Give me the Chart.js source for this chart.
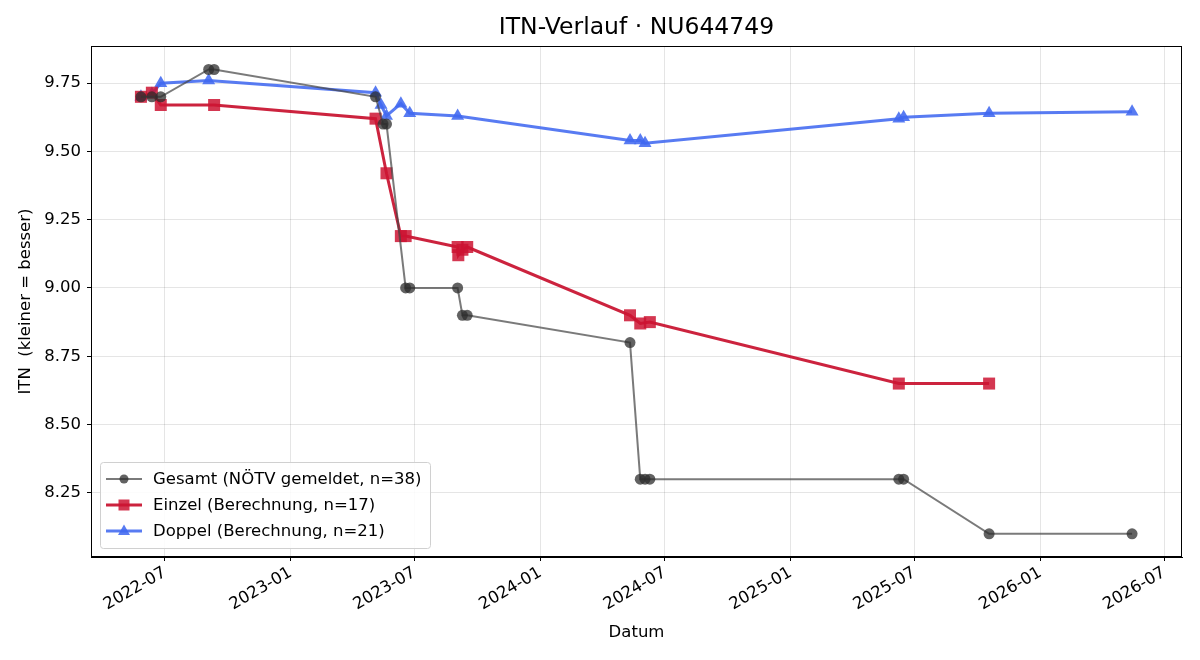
<!DOCTYPE html>
<html>
<head>
<meta charset="utf-8">
<script src="https://cdn.jsdelivr.net/npm/chart.js@4.4.1/dist/chart.umd.min.js"></script>
<style>
  body { margin: 0; background: #fff; }
  canvas { display: block; }
</style>
</head>
<body>
<canvas id="myChart" width="1200" height="660"></canvas>
<script>
(() => {
  // values
  const gesamtDates = ['2022-05-27', '2022-06-12', '2022-06-25', '2022-09-03', '2022-09-11', '2023-05-05', '2023-05-16', '2023-05-21', '2023-06-18', '2023-06-24', '2023-09-02', '2023-09-09', '2023-09-16', '2024-05-11', '2024-05-26', '2024-06-02', '2024-06-09', '2025-06-08', '2025-06-15', '2025-10-18', '2026-05-15'];
  const gesamtValues = [9.70, 9.70, 9.70, 9.80, 9.80, 9.70, 9.60, 9.60, 9.00, 9.00, 9.00, 8.90, 8.90, 8.80, 8.30, 8.30, 8.30, 8.30, 8.30, 8.10, 8.10];

  const einzelDates = ['2022-05-27', '2022-06-12', '2022-06-25', '2022-09-11', '2023-05-05', '2023-05-21', '2023-06-11', '2023-06-18', '2023-09-02', '2023-09-03', '2023-09-09', '2023-09-16', '2024-05-11', '2024-05-26', '2024-06-09', '2025-06-08', '2025-10-18'];
  const einzelValues = [9.70, 9.715, 9.67, 9.67, 9.62, 9.42, 9.19, 9.19, 9.15, 9.12, 9.14, 9.15, 8.90, 8.87, 8.875, 8.65, 8.65];

  const doppelDates = ['2022-05-27', '2022-06-12', '2022-06-25', '2022-09-03', '2023-05-05', '2023-05-13', '2023-05-21', '2023-06-11', '2023-06-24', '2023-09-02', '2024-05-11', '2024-05-26', '2024-06-02', '2025-06-08', '2025-06-15', '2025-10-18', '2026-05-15'];
  const doppelValues = [9.70, 9.71, 9.75, 9.76, 9.715, 9.67, 9.63, 9.675, 9.64, 9.63, 9.54, 9.54, 9.53, 9.62, 9.625, 9.64, 9.645];

  const xTickLabels = ['2022-07', '2023-01', '2023-07', '2024-01', '2024-07', '2025-01', '2025-07', '2026-01', '2026-07'];
  const yTickLabels = [8.25, 8.50, 8.75, 9.00, 9.25, 9.50, 9.75];

  const seriesNames = ['Gesamt (NÖTV gemeldet, n=38)', 'Einzel (Berechnung, n=17)', 'Doppel (Berechnung, n=21)'];
  const chartTitle = 'ITN-Verlauf · NU644749';

  const toPoints = (dates, values) => dates.map((d, i) => ({ x: Date.parse(d + 'T00:00:00Z'), y: values[i] }));
  const FONT = 'DejaVu Sans';
  const FS = 16.5;

  // frame around plot area + title centred over the plot area (matplotlib style)
  const framePlugin = {
    id: 'frame',
    afterDraw(chart) {
      const a = chart.chartArea, ctx = chart.ctx;
      ctx.save();
      ctx.strokeStyle = '#000';
      ctx.lineWidth = 1;
      ctx.strokeRect(a.left + 0.5, a.top + 0.5, a.right - a.left - 1, a.bottom - a.top - 1);
      ctx.fillStyle = '#000';
      ctx.font = '23.5px "' + FONT + '"';
      ctx.textAlign = 'center';
      ctx.textBaseline = 'middle';
      ctx.fillText(chartTitle, (a.left + a.right) / 2, 28);
      ctx.restore();
    }
  };

  // legend drawn inside plot, lower left like matplotlib
  const legendPlugin = {
    id: 'innerLegend',
    afterDraw(chart) {
      const a = chart.chartArea, ctx = chart.ctx;
      const x0 = a.left + 9, y0 = a.bottom - 95, w = 330, h = 86;
      ctx.save();
      ctx.fillStyle = 'rgba(255,255,255,0.85)';
      ctx.strokeStyle = '#d0d0d0';
      ctx.lineWidth = 1;
      ctx.beginPath();
      ctx.roundRect(x0 + 0.5, y0 + 0.5, w, h, 3);
      ctx.fill();
      ctx.stroke();
      chart.data.datasets.forEach((ds, i) => {
        const cy = y0 + 17 + i * 26;
        ctx.strokeStyle = ds.borderColor;
        ctx.lineWidth = ds.borderWidth;
        ctx.beginPath();
        ctx.moveTo(x0 + 6, cy);
        ctx.lineTo(x0 + 42, cy);
        ctx.stroke();
        ctx.fillStyle = ds.pointBackgroundColor;
        ctx.beginPath();
        const cx = x0 + 24;
        if (ds.pointStyle === 'circle') {
          ctx.arc(cx, cy, 4.5, 0, Math.PI * 2);
        } else if (ds.pointStyle === 'rect') {
          ctx.rect(cx - 5.5, cy - 5.5, 11, 11);
        } else {
          ctx.moveTo(cx, cy - 6.5);
          ctx.lineTo(cx + 6, cy + 4);
          ctx.lineTo(cx - 6, cy + 4);
          ctx.closePath();
        }
        ctx.fill();
        ctx.fillStyle = '#000';
        ctx.font = FS + 'px "' + FONT + '"';
        ctx.textBaseline = 'middle';
        ctx.fillText(seriesNames[i], x0 + 53, cy + 1);
      });
      ctx.restore();
    }
  };

  const myChart = document.getElementById('myChart').getContext('2d');

  new Chart(myChart, {
    type: 'line',
    data: {
      datasets: [{
        label: seriesNames[0],
        data: toPoints(gesamtDates, gesamtValues),
        borderColor: 'rgba(70,70,70,0.72)',
        borderWidth: 2,
        pointStyle: 'circle',
        pointRadius: 5.5,
        pointBackgroundColor: 'rgba(45,45,45,0.75)',
        pointBorderColor: 'rgba(45,45,45,0.75)',
        pointBorderWidth: 0,
        tension: 0
      }, {
        label: seriesNames[1],
        data: toPoints(einzelDates, einzelValues),
        borderColor: 'rgba(200,16,46,0.92)',
        borderWidth: 3,
        pointStyle: 'rect',
        pointRadius: 8.5,
        pointBackgroundColor: 'rgba(205,20,50,0.85)',
        pointBorderColor: 'rgba(205,20,50,0.85)',
        pointBorderWidth: 0,
        tension: 0
      }, {
        label: seriesNames[2],
        data: toPoints(doppelDates, doppelValues),
        borderColor: 'rgba(65,105,240,0.88)',
        borderWidth: 3,
        pointStyle: 'triangle',
        pointRadius: 7.5,
        pointBackgroundColor: 'rgba(65,105,240,0.88)',
        pointBorderColor: 'rgba(65,105,240,0.88)',
        pointBorderWidth: 0,
        tension: 0
      }]
    },
    options: {
      responsive: false,
      animation: false,
      devicePixelRatio: 1,
      layout: { padding: { left: 0, right: 18, top: 46, bottom: 0 } },
      plugins: {
        legend: { display: false },
        tooltip: { enabled: false },
        title: { display: false }
      },
      scales: {
        x: {
          type: 'linear',
          min: Date.parse('2022-03-15T00:00:00Z'),
          max: Date.parse('2026-07-27T00:00:00Z'),
          afterBuildTicks(scale) {
            scale.ticks = xTickLabels.map(l => ({ value: Date.parse(l + '-01T00:00:00Z') }));
          },
          afterFit(scale) { scale.height = 103; },
          ticks: {
            autoSkip: false,
            minRotation: 30,
            maxRotation: 30,
            padding: 2,
            color: '#000',
            font: { family: FONT, size: FS },
            callback: v => new Date(v).toISOString().slice(0, 7)
          },
          grid: { color: 'rgba(0,0,0,0.1)', tickColor: '#000', tickLength: 4 },
          border: { color: '#000' },
          title: {
            display: true,
            text: 'Datum',
            color: '#000',
            font: { family: FONT, size: FS },
            padding: { top: 0, bottom: 17 }
          }
        },
        y: {
          min: 8.015,
          max: 9.886,
          afterBuildTicks(scale) {
            scale.ticks = yTickLabels.map(v => ({ value: v }));
          },
          afterFit(scale) { scale.width = 91; },
          ticks: {
            padding: 6,
            color: '#000',
            font: { family: FONT, size: FS },
            callback: v => v.toFixed(2)
          },
          grid: { color: 'rgba(0,0,0,0.1)', tickColor: '#000', tickLength: 4 },
          border: { color: '#000' },
          title: {
            display: true,
            text: 'ITN  (kleiner = besser)',
            color: '#000',
            font: { family: FONT, size: FS },
            padding: { top: 16, bottom: 0 }
          }
        }
      }
    },
    plugins: [framePlugin, legendPlugin]
  });
})();
</script>
</body>
</html>
